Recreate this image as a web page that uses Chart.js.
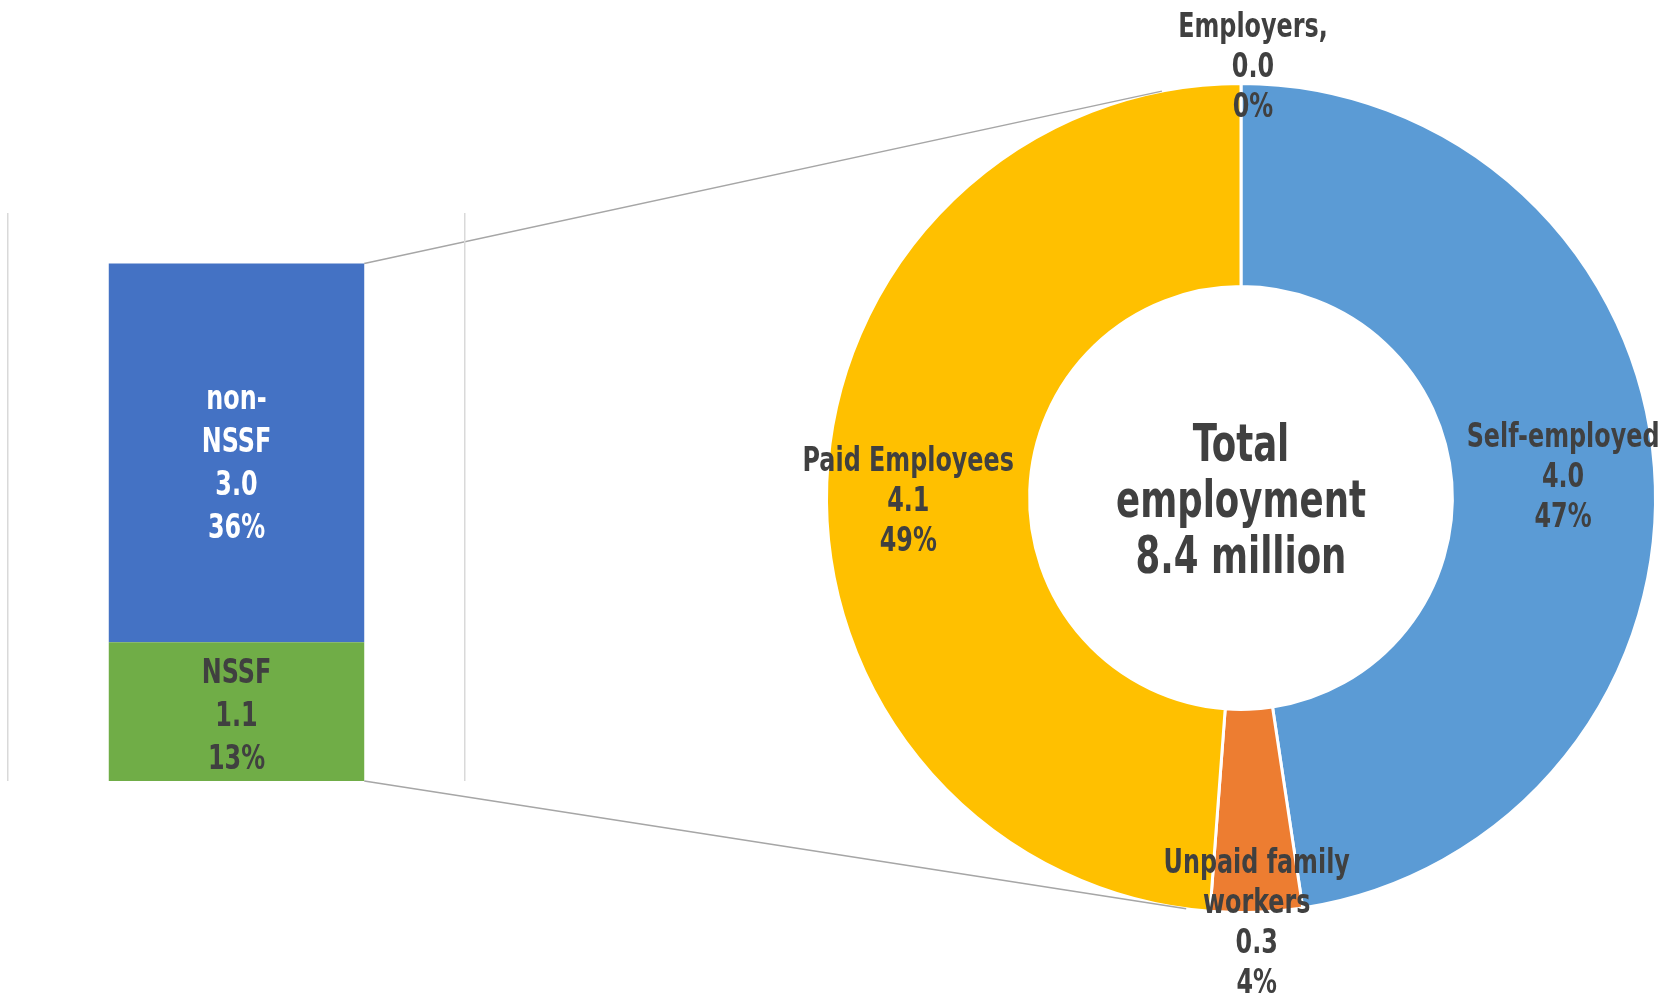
<!DOCTYPE html>
<html>
<head>
<meta charset="utf-8">
<title>Total employment</title>
<script src="https://cdn.jsdelivr.net/npm/chart.js@4.4.1/dist/chart.umd.min.js"></script>
<style>
  html, body { margin: 0; padding: 0; background: #fff; }
  #wrap { position: relative; width: 1670px; height: 993px; overflow: hidden; }
  #wrap canvas { position: absolute; left: 0; top: 0; }
</style>
</head>
<body>
<div id="wrap">
  <canvas id="pieChart" width="1670" height="993"></canvas>
  <canvas id="barChart" width="480" height="993"></canvas>
</div>
<script>
// Employment by status, millions
const employmentTypes = ['Self-employed', 'Unpaid family workers', 'Paid Employees', 'Employers'];
const employmentValues = [4.0, 0.3, 4.1, 0.0];
const employmentShares = ['47%', '4%', '49%', '0%'];
// how the category names wrap in the labels
const employmentNameLines = [['Self-employed'], ['Unpaid family', 'workers'], ['Paid Employees'], ['Employers,']];

// Paid employees split, millions
const paidTypes = ['NSSF', 'non-NSSF'];
const paidValues = [1.1, 3.0];
const paidShares = ['13%', '36%'];
const paidNameLines = [['NSSF'], ['non-', 'NSSF']];

const centerLines = ['Total', 'employment', '8.4 million'];

// styles
const pieColors = ['#5B9BD5', '#ED7D31', '#FFC000', '#A5A5A5'];
const barColors = ['#70AD47', '#4472C4'];
const barTextColors = ['#404040', '#ffffff'];
const textColor = '#404040';
const fontStack = '"DejaVu Sans Condensed", "Liberation Sans Narrow", sans-serif';
const labelFont = 'bold 34px ' + fontStack;
const centerFont = 'bold 52px ' + fontStack;
const labelSqueeze = 0.78;   // text is narrow and tall in the original
const centerSqueeze = 0.76;
const labelLineHeight = 40;
const barLineHeight = 43;
const centerLineHeight = 56;
// nudges of the pie labels from the slice centroid [dx, dy]
const pieLabelNudge = [[10, 4], [4, 113], [-20, 16], [12, -117]];
const barLabelNudge = [6, 12];
// where the connector lines meet the ring (degrees, canvas angle)
const connectorAngles = [259, 97.6];

function drawLines(ctx, lines, x, y, lineHeight, color, font, squeeze) {
    ctx.save();
    ctx.font = font;
    ctx.fillStyle = color;
    ctx.textAlign = 'center';
    ctx.textBaseline = 'middle';
    ctx.translate(x, y);
    ctx.scale(squeeze, 1);
    const top = -(lines.length - 1) * lineHeight / 2;
    lines.forEach((line, i) => {
        ctx.fillText(line, 0, top + i * lineHeight);
    });
    ctx.restore();
}

// Bar of the paid employees breakdown
const barLabelPlugin = {
    id: 'barLabels',
    afterDatasetsDraw(chart) {
        const ctx = chart.ctx;
        chart.data.datasets.forEach((ds, i) => {
            const bar = chart.getDatasetMeta(i).data[0];
            const midY = (bar.y + bar.base) / 2;
            const lines = paidNameLines[i].concat([paidValues[i].toFixed(1), paidShares[i]]);
            drawLines(ctx, lines, bar.x, midY + barLabelNudge[i], barLineHeight, barTextColors[i], labelFont, labelSqueeze);
        });
    }
};

const barChart = new Chart(document.getElementById('barChart'), {
    type: 'bar',
    data: {
        labels: ['Paid Employees'],
        datasets: paidTypes.map((type, i) => ({
            label: type,
            data: [paidValues[i]],
            backgroundColor: barColors[i],
            borderWidth: 0,
            barPercentage: 0.559,
            categoryPercentage: 1
        }))
    },
    options: {
        responsive: false,
        animation: false,
        layout: { padding: { left: 8, right: 15, top: 213, bottom: 212 } },
        plugins: { legend: { display: false }, tooltip: { enabled: false } },
        scales: {
            x: {
                stacked: true,
                grid: { offset: true, color: '#d9d9d9', lineWidth: 1.5, drawTicks: false },
                border: { display: false },
                ticks: { display: false }
            },
            y: { stacked: true, display: false, min: 0, max: 4.5 }
        }
    },
    plugins: [barLabelPlugin]
});

// Doughnut of total employment
const pieLabelPlugin = {
    id: 'pieLabels',
    afterDatasetsDraw(chart) {
        const ctx = chart.ctx;
        const arcs = chart.getDatasetMeta(0).data;
        const cx = arcs[0].x;
        const cy = arcs[0].y;
        const outer = arcs[0].outerRadius;

        // connector lines from the bar corners to the ring
        const bar = barChart.getDatasetMeta(1).data[0];
        const barBottom = barChart.getDatasetMeta(0).data[0];
        const barRight = bar.x + bar.width / 2;
        const starts = [[barRight, bar.y], [barRight, barBottom.base]];
        ctx.save();
        ctx.strokeStyle = '#a6a6a6';
        ctx.lineWidth = 1.5;
        starts.forEach((p, i) => {
            const a = connectorAngles[i] * Math.PI / 180;
            ctx.beginPath();
            ctx.moveTo(p[0], p[1]);
            ctx.lineTo(cx + outer * Math.cos(a), cy + outer * Math.sin(a));
            ctx.stroke();
        });
        ctx.restore();

        // slice labels
        arcs.forEach((arc, i) => {
            const pos = arc.tooltipPosition();
            const lines = employmentNameLines[i].concat([employmentValues[i].toFixed(1), employmentShares[i]]);
            drawLines(ctx, lines, pos.x + pieLabelNudge[i][0], pos.y + pieLabelNudge[i][1],
                labelLineHeight, textColor, labelFont, labelSqueeze);
        });

        // text in the hole
        drawLines(ctx, centerLines, cx, cy + 5, centerLineHeight, textColor, centerFont, centerSqueeze);
    }
};

new Chart(document.getElementById('pieChart'), {
    type: 'doughnut',
    data: {
        labels: employmentTypes,
        datasets: [{
            data: employmentValues,
            backgroundColor: pieColors,
            borderColor: '#ffffff',
            borderWidth: 3
        }]
    },
    options: {
        responsive: false,
        animation: false,
        cutout: '51%',
        layout: { padding: { left: 823, right: 11, top: 82, bottom: 79 } },
        plugins: { legend: { display: false }, tooltip: { enabled: false } }
    },
    plugins: [pieLabelPlugin]
});
</script>
</body>
</html>
